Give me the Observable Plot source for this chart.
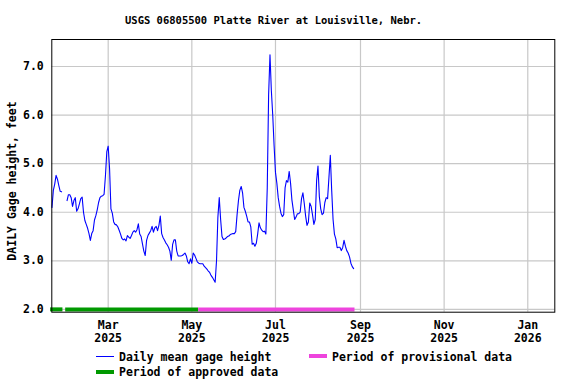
<!DOCTYPE html>
<html><head><meta charset="utf-8">
<script src="https://cdn.jsdelivr.net/npm/d3@7"></script>
<script src="https://cdn.jsdelivr.net/npm/@observablehq/plot@0.6"></script>
<style>
body{margin:0;background:#fff;}
#wrap{position:relative;width:576px;height:384px;overflow:hidden;font-family:"DejaVu Sans Mono",monospace;font-weight:bold;color:#000;}
#title{position:absolute;left:125px;top:14px;font-size:10.5px;line-height:12px;white-space:nowrap;}
#chart{position:absolute;left:0;top:30px;}
#ylab{position:absolute;left:12px;top:181px;font-size:11.5px;line-height:12px;white-space:nowrap;transform:translate(-50%,-50%) rotate(-90deg);}
.lt{position:absolute;font-size:11.5px;line-height:14px;white-space:nowrap;}
.sw{position:absolute;}
</style></head><body>
<div id="wrap">
  <div id="title"></div>
  <div id="chart"></div>
  <div id="ylab"></div>
  <div id="legend"></div>
</div>
<script>
const titleText = "USGS 06805500 Platte River at Louisville, Nebr.";
const yLabel = "DAILY Gage height, feet";
const startDate = "2025-01-19";
// daily mean gage height (feet), one value per day from startDate; null = missing
const gageHeight = [
  4.10, 4.45, 4.58, 4.76, 4.68, 4.55, 4.43, 4.42,
  null, null, null,
  4.24, 4.36, 4.36, 4.30, 4.12, 4.24, 4.30, 4.02, 4.07, 4.17,
  4.28, 4.31, 4.00, 3.83, 3.75, 3.67, 3.56, 3.42, 3.56, 3.62,
  3.84, 3.93, 4.05, 4.20, 4.30, 4.33, 4.34, 4.37, 4.75, 5.25,
  5.36, 4.90, 4.07, 3.98, 3.80, 3.75, 3.74, 3.70, 3.63, 3.55,
  3.46, 3.43, 3.45, 3.41, 3.52, 3.49, 3.46, 3.52, 3.59, 3.62,
  3.59, 3.64, 3.76, 3.55, 3.50, 3.35, 3.20, 3.11, 3.42, 3.52,
  3.57, 3.62, 3.71, 3.59, 3.68, 3.71, 3.62, 3.73, 3.92, 3.56,
  3.48, 3.43, 3.37, 3.33, 3.28, 3.20, 3.01, 3.34, 3.43, 3.43,
  3.20, 3.10, 3.10, 3.10, 3.11, 3.13, 3.16, 3.10, 2.98, 2.94,
  3.04, 2.95, 3.16, 3.12, 3.05, 2.98, 2.95, 2.94, 2.94, 2.94,
  2.89, 2.86, 2.83, 2.79, 2.76, 2.70, 2.66, 2.61, 2.56, 3.00,
  3.90, 4.30, 3.85, 3.50, 3.44, 3.45, 3.47, 3.50, 3.51, 3.54,
  3.55, 3.56, 3.56, 3.60, 3.95, 4.24, 4.45, 4.53, 4.40, 4.10,
  4.02, 3.92, 3.80, 3.80, 3.70, 3.34, 3.36, 3.30, 3.36, 3.55,
  3.78, 3.68, 3.63, 3.60, 3.61, 3.55, 4.50, 6.42, 7.24, 6.50,
  6.00, 5.37, 4.82, 4.60, 4.30, 4.12, 3.98, 3.91, 3.95, 4.50,
  4.65, 4.62, 4.84, 4.60, 4.25, 4.05, 3.85, 3.90, 3.97, 3.97,
  4.00, 4.28, 4.40, 4.18, 3.92, 3.73, 3.80, 4.19, 4.12, 3.95,
  3.75, 3.85, 4.65, 4.95, 4.32, 4.07, 3.95, 3.98, 4.20, 4.30,
  4.28, 4.72, 5.17, 4.45, 3.85, 3.55, 3.45, 3.27, 3.28, 3.28,
  3.21, 3.27, 3.42, 3.30, 3.21, 3.16, 3.08, 2.95, 2.88, 2.84
];
// data-approval periods
const periodStatus = ["approved", "approved", "provisional"];
const periodStart = ["2025-01-18", "2025-01-29", "2025-05-06"];
const periodEnd   = ["2025-01-27", "2025-05-06", "2025-08-28"];
const statusNames = ["approved", "provisional"];
const statusColors = ["#009900", "#ee44dd"];
// axes
const xTicks = ["2025-03-01", "2025-05-01", "2025-07-01", "2025-09-01", "2025-11-01", "2026-01-01"];
const yTicks = [2, 3, 4, 5, 6, 7];
const xDomain = ["2025-01-18T21:00Z", "2026-01-20T17:00Z"];
const yDomain = [1.942, 7.556];
// legend
const legendLabels = ["Daily mean gage height", "Period of provisional data", "Period of approved data"];

document.getElementById("title").textContent = titleText;
document.getElementById("ylab").textContent = yLabel;

const series = gageHeight.map((v, i) => ({date: d3.utcDay.offset(new Date(startDate), i), value: v}));
const periods = periodStatus.map((s, i) => ({status: s, start: new Date(periodStart[i]), end: new Date(periodEnd[i])}));
const tickDates = xTicks.map(d => new Date(d));

const chart = Plot.plot({
  width: 576, height: 316,
  marginLeft: 51.3, marginRight: 21.7, marginTop: 9, marginBottom: 34.3,
  style: {fontFamily: "'DejaVu Sans Mono', monospace", fontWeight: "bold", fontSize: "11.5px", background: "white", color: "black"},
  x: {type: "utc", domain: xDomain.map(d => new Date(d))},
  y: {domain: yDomain},
  color: {domain: statusNames, range: statusColors},
  marks: [
    Plot.ruleY(yTicks, {stroke: "#c8c8c8", strokeWidth: 1.2}),
    Plot.ruleX(tickDates, {stroke: "#c8c8c8", strokeWidth: 1.2}),
    Plot.ruleY(periods, {x1: "start", x2: "end", y: 2, stroke: "status", strokeWidth: 4}),
    Plot.line(series, {x: "date", y: "value", stroke: "#0000ff", strokeWidth: 1.1}),
    Plot.frame({stroke: "black"}),
    Plot.axisY({ticks: yTicks, tickFormat: d3.format(".1f"), tickSize: 0, tickPadding: 8, label: null}),
    Plot.axisX({ticks: tickDates, tickFormat: d3.utcFormat("%b"), tickSize: 0, tickPadding: 9, label: null}),
    Plot.axisX({ticks: tickDates, tickFormat: d3.utcFormat("%Y"), tickSize: 0, tickPadding: 22, label: null})
  ]
});
document.getElementById("chart").appendChild(chart);

const legend = document.getElementById("legend");
const items = [
  {label: legendLabels[0], color: "#0000ff", h: 1.2, sx: 96, sy: 356, tx: 119, ty: 350},
  {label: legendLabels[1], color: statusColors[1], h: 4, sx: 309, sy: 353.5, tx: 332, ty: 350},
  {label: legendLabels[2], color: statusColors[0], h: 4, sx: 96, sy: 370, tx: 119, ty: 365}
];
for (const it of items) {
  const s = document.createElement("div");
  s.className = "sw";
  s.style.cssText = `left:${it.sx}px;top:${it.sy}px;width:18px;height:${it.h}px;background:${it.color}`;
  legend.appendChild(s);
  const t = document.createElement("div");
  t.className = "lt";
  t.style.cssText = `left:${it.tx}px;top:${it.ty}px`;
  t.textContent = it.label;
  legend.appendChild(t);
}
</script>
</body></html>
